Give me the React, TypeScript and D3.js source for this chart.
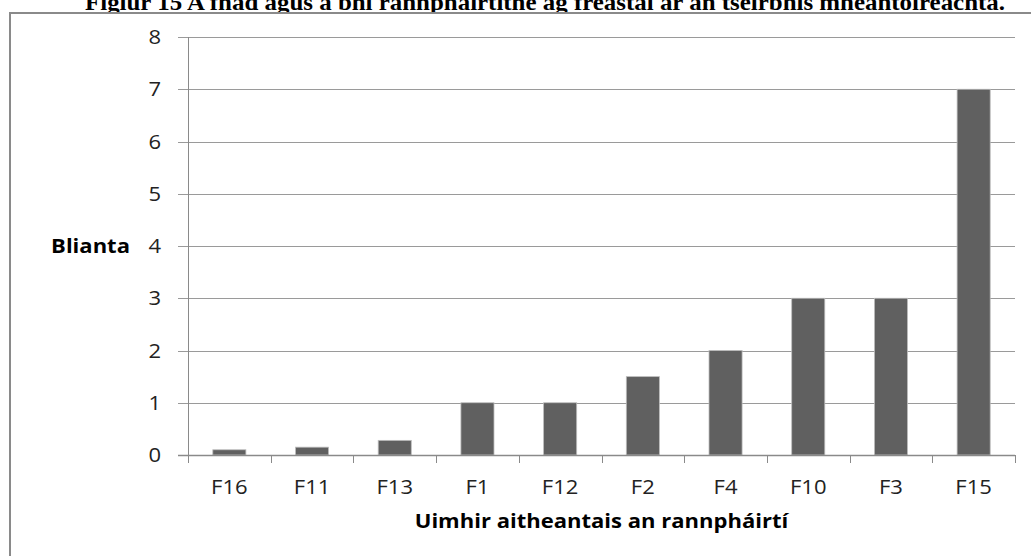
import React, { useRef, useEffect } from 'react';
import * as d3 from 'd3';

const categories = ['F16', 'F11', 'F13', 'F1', 'F12', 'F2', 'F4', 'F10', 'F3', 'F15'];
const values = [0.1, 0.15, 0.28, 1, 1, 1.5, 2, 3, 3, 7];
const yTicks = [0, 1, 2, 3, 4, 5, 6, 7, 8];
const title = 'Figiúr 15 A fhad agus a bhí rannpháirtithe ag freastal ar an tseirbhís mheantóireachta.';
const yTitle = 'Blianta';
const xTitle = 'Uimhir aitheantais an rannpháirtí';

export default function App() {
  const svgRef = useRef<SVGSVGElement>(null);

  useEffect(() => {
    if (!svgRef.current) return;
    const svg = d3.select(svgRef.current);
    svg.selectAll('*').remove();

    const width = 1031;
    const height = 556;
    const margin = { top: 37, right: 16, bottom: 101, left: 188 };
    const font = '"Open Sans", "Liberation Sans", sans-serif';
    const sx = 1.13; // the source image is a little wider than tall

    const label = (g, px, py, txt, anchor, bold = false) =>
      g.append('text')
        .attr('transform', `translate(${px},${py}) scale(${sx},1)`)
        .attr('text-anchor', anchor)
        .attr('font-family', font)
        .attr('font-weight', bold ? 'bold' : 'normal')
        .attr('font-size', '19.5px')
        .attr('fill', bold ? '#000' : '#222')
        .text(txt);

    // title, cut at the top like the source
    svg.append('text')
      .attr('x', 85)
      .attr('y', 10)
      .attr('textLength', 920)
      .attr('lengthAdjust', 'spacingAndGlyphs')
      .attr('font-family', '"Liberation Serif", "Times New Roman", serif')
      .attr('font-weight', 'bold')
      .attr('font-size', '24px')
      .attr('fill', '#000')
      .text(title);

    // chart frame
    svg.append('rect')
      .attr('x', 10)
      .attr('y', 13)
      .attr('width', width + 20)
      .attr('height', height + 20)
      .attr('fill', '#fff')
      .attr('stroke', '#8a8a8a')
      .attr('stroke-width', 2);

    const x = d3.scaleBand()
      .domain(categories)
      .range([margin.left, width - margin.right])
      .paddingInner(0.6)
      .paddingOuter(0.3);

    const xb = d3.scaleBand()
      .domain(categories)
      .range([margin.left, width - margin.right]);

    const y = d3.scaleLinear()
      .domain([0, 8])
      .range([height - margin.bottom, margin.top]);

    // gridlines + y ticks
    svg.append('g')
      .selectAll('line')
      .data(yTicks)
      .enter().append('line')
      .attr('x1', margin.left - 10)
      .attr('x2', width - margin.right)
      .attr('y1', d => Math.round(y(d)) + 0.5)
      .attr('y2', d => Math.round(y(d)) + 0.5)
      .attr('stroke', '#9a9a9a')
      .attr('stroke-width', 1);

    const yl = svg.append('g');
    yTicks.forEach(t => label(yl, margin.left - 27, y(t) + 7, t, 'end'));

    // bars
    svg.append('g')
      .selectAll('rect')
      .data(values)
      .enter().append('rect')
      .attr('x', (d, i) => x(categories[i]))
      .attr('y', d => y(d))
      .attr('width', x.bandwidth())
      .attr('height', d => y(0) - y(d))
      .attr('fill', '#606060')
      .attr('stroke', '#bdbdbd')
      .attr('stroke-width', 0.8);

    // axes lines
    svg.append('line')
      .attr('x1', margin.left + 0.5)
      .attr('x2', margin.left + 0.5)
      .attr('y1', margin.top)
      .attr('y2', y(0) + 8)
      .attr('stroke', '#8a8a8a');

    svg.append('line')
      .attr('x1', margin.left - 10)
      .attr('x2', width - margin.right)
      .attr('y1', Math.round(y(0)) + 0.5)
      .attr('y2', Math.round(y(0)) + 0.5)
      .attr('stroke', '#8a8a8a')
      .attr('stroke-width', 1.5);

    const bounds = categories.map(c => xb(c) as number).concat([width - margin.right]);
    svg.append('g')
      .selectAll('line')
      .data(bounds)
      .enter().append('line')
      .attr('x1', d => Math.round(d) + 0.5)
      .attr('x2', d => Math.round(d) + 0.5)
      .attr('y1', y(0))
      .attr('y2', y(0) + 8)
      .attr('stroke', '#8a8a8a');

    const xl = svg.append('g');
    categories.forEach(c => label(xl, (xb(c) as number) + xb.bandwidth() / 2, y(0) + 39, c, 'middle'));

    // axis titles
    label(svg, (margin.left + width - margin.right) / 2, 528, xTitle, 'middle', true);
    label(svg, 130, y(4) + 7, yTitle, 'end', true);
  }, []);

  return (
    <svg
      ref={svgRef}
      width={1031}
      height={556}
      style={{ position: 'absolute', left: 0, top: 0, background: '#fff' }}
    />
  );
}
